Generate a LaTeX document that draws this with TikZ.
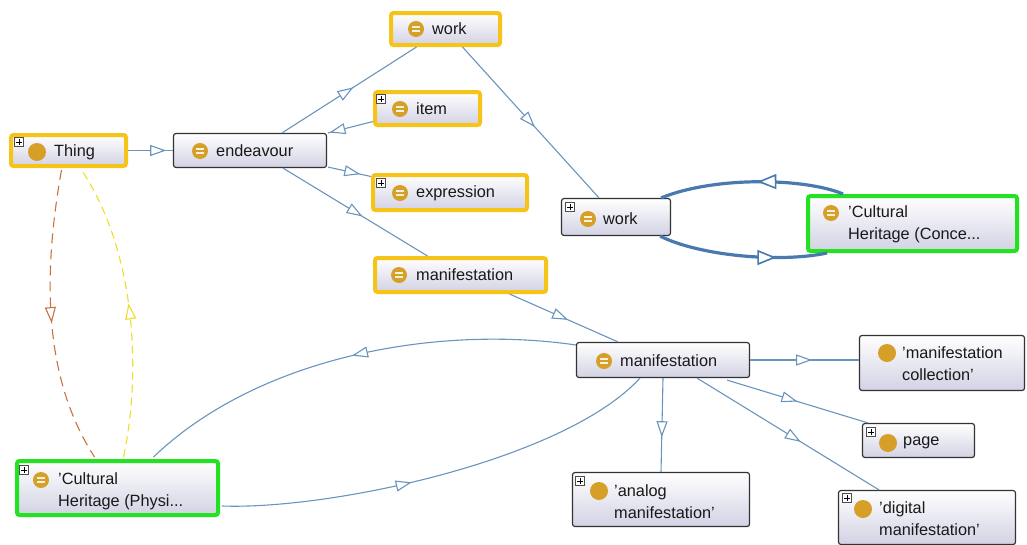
\documentclass[tikz,border=0pt]{standalone}
\usepackage{fontspec}
\setmainfont{Liberation Sans}
\usetikzlibrary{arrows.meta,decorations.markings,calc}
\definecolor{ybord}{RGB}{246,196,24}
\definecolor{gbord}{RGB}{34,226,34}
\definecolor{boxbot}{RGB}{210,210,228}
\definecolor{edgeb}{RGB}{105,148,190}
\definecolor{edgethick}{RGB}{72,122,176}
\definecolor{gold}{RGB}{214,160,40}
\definecolor{brownd}{RGB}{200,112,64}
\definecolor{yellowd}{RGB}{238,222,40}
\tikzset{
  basebox/.style={rectangle, rounded corners=2.5pt, top color=white, bottom color=boxbot, inner sep=0pt},
  ybox/.style={basebox, draw=ybord, line width=4pt},
  gbox/.style={basebox, draw=gbord, line width=4pt},
  kbox/.style={basebox, draw=black!80, line width=1.2pt},
  lbl/.style={anchor=west, inner sep=0pt, font=\fontsize{16.3}{22}\selectfont, text=black!90, align=left},
  plainicon/.style={circle, fill=gold, minimum size=18pt, inner sep=0pt},
  eqicon/.style={circle, fill=gold, minimum size=16pt, inner sep=0pt,
    path picture={\draw[white!85!gold, line width=1.6pt]
      ($(path picture bounding box.center)+(-3.8,-2)$) -- ++(7.6,0)
      ($(path picture bounding box.center)+(-3.8,2)$) -- ++(7.6,0);}},
  plusbox/.style={rectangle, draw=black!70, fill=white, line width=0.6pt, minimum size=8.5pt, inner sep=0pt,
    path picture={\draw[black, line width=0.8pt]
      ($(path picture bounding box.center)+(-2.7,0)$) -- ++(5.4,0)
      ($(path picture bounding box.center)+(0,-2.7)$) -- ++(0,5.4);}},
  tri/.tip={Triangle[open, length=16pt, width=11pt, fill=white]},
  bigtri/.tip={Triangle[open, length=19pt, width=15pt, fill=white, line width=1.6pt]},
  midarr/.style={postaction={decorate}, decoration={markings, mark=at position #1 with {\arrow{tri}}}},
  midarr/.default=0.5,
  bigarr/.style={postaction={decorate}, decoration={markings, mark=at position #1 with {\arrow{bigtri}}}},
  edge/.style={draw=edgeb, line width=1.1pt},
  thick edge/.style={draw=edgethick, line width=3.2pt},
}
\begin{document}
\begin{tikzpicture}[x=1pt,y=-1pt]
\useasboundingbox (0,0) rectangle (1027,544);
% boxes
\node[ybox, minimum width=115pt, minimum height=31pt] (thing) at (68.5,150.5) {};
\node[kbox, minimum width=153pt, minimum height=34pt] (endeav) at (250,150.5) {};
\node[ybox, minimum width=109pt, minimum height=32pt] (work1) at (445.5,29) {};
\node[ybox, minimum width=105pt, minimum height=33pt] (item) at (427.5,108.5) {};
\node[ybox, minimum width=154pt, minimum height=35pt] (expr) at (450,192.5) {};
\node[ybox, minimum width=171pt, minimum height=34pt] (manif1) at (460.5,275) {};
\node[kbox, minimum width=109pt, minimum height=37pt] (work2) at (616,217) {};
\node[gbox, minimum width=209pt, minimum height=55pt] (chc) at (912.5,223.5) {};
\node[kbox, minimum width=173pt, minimum height=35pt] (manif2) at (663,360) {};
\node[kbox, minimum width=165pt, minimum height=55pt] (mcoll) at (942,363) {};
\node[kbox, minimum width=112pt, minimum height=34pt] (page) at (918.5,440.5) {};
\node[kbox, minimum width=177pt, minimum height=54pt] (analog) at (661,499.5) {};
\node[kbox, minimum width=177pt, minimum height=54pt] (digital) at (927,517.5) {};
\node[gbox, minimum width=201pt, minimum height=54pt] (chp) at (117.5,488) {};
% icons and labels
\node[plusbox] (thingp) at (19,142) {};
\node[plainicon] (thingi) at (37,152) {};
\node[lbl] (thingt) at (54,152) {Thing};
\node[eqicon] (endeavi) at (200,151) {};
\node[lbl] (endeavt) at (216,151) {endeavour};
\node[eqicon] (work1i) at (416,29) {};
\node[lbl] (work1t) at (432,29) {work};
\node[plusbox] (itemp) at (381,99) {};
\node[eqicon] (itemi) at (400,109) {};
\node[lbl] (itemt) at (416,109) {item};
\node[plusbox] (exprp) at (381,183) {};
\node[eqicon] (expri) at (400,193) {};
\node[lbl] (exprt) at (416,193) {expression};
\node[eqicon] (manif1i) at (399,275) {};
\node[lbl] (manif1t) at (416,275) {manifestation};
\node[plusbox] (work2p) at (570,207) {};
\node[eqicon] (work2i) at (588,219) {};
\node[lbl] (work2t) at (603,219) {work};
\node[eqicon] (chci) at (831,213) {};
\node[lbl] (chct) at (848,224.5) {'Cultural\\Heritage (Conce...};
\node[eqicon] (manif2i) at (604,361) {};
\node[lbl] (manif2t) at (620,361) {manifestation};
\node[plainicon] (mcolli) at (887,353) {};
\node[lbl] (mcollt) at (902,364) {'manifestation\\collection'};
\node[plusbox] (pagep) at (871,432) {};
\node[plainicon] (pagei) at (888,443) {};
\node[lbl] (paget) at (903,443) {page};
\node[plusbox] (analogp) at (580,481) {};
\node[plainicon] (analogi) at (599,491) {};
\node[lbl] (analogt) at (614,502) {'analog\\manifestation'};
\node[plusbox] (digitalp) at (847,498) {};
\node[plainicon] (digitali) at (863,509) {};
\node[lbl] (digitalt) at (879,519) {'digital\\manifestation'};
\node[plusbox] (chpp) at (24,470) {};
\node[eqicon] (chpi) at (41,480) {};
\node[lbl] (chpt) at (58,491) {'Cultural\\Heritage (Physi...};
% edges
\path[edge, midarr=0.85] (thing.east) -- (endeav.west);
\path[edge, midarr=0.53] ($(endeav.north)+(32,0)$) -- ($(work1.south)+(-29,0)$);
\path[edge, midarr=0.97] ($(item.west)+(0,13)$) -- ($(endeav.north east)+(1,0)$);
\path[edge, midarr=0.75] ($(endeav.south east)+(1,-1)$) -- ($(expr.west)+(0,-16)$);
\path[edge, midarr=0.55] ($(endeav.south)+(33,0)$) -- ($(manif1.north)+(-33,0)$);
\path[edge, midarr=0.53] ($(work1.south)+(17,0)$) -- ($(work2.north)+(-17,0)$);
\path[edge, midarr=0.54] ($(manif1.south)+(49,0)$) -- ($(manif2.north)+(-45,0)$);
\path[thick edge, bigarr=0.47] ($(chc.north west)+(37,0)$) .. controls (805,178) and (715,176) .. ($(work2.north east)+(-10,0)$);
\path[thick edge, bigarr=0.7] ($(work2.south east)+(-11,0)$) .. controls (700,256) and (780,263) .. ($(chc.south west)+(21,0)$);
\path[draw=brownd, line width=1.1pt, dash pattern=on 10pt off 6pt, midarr=0.52] ($(thing.south)+(-7,2)$) .. controls (40,290) and (48,385) .. ($(chp.north)+(-23,-2)$);
\path[draw=yellowd, line width=1.1pt, dash pattern=on 8pt off 5pt, midarr=0.52] ($(chp.north)+(6,-2)$) .. controls (142,370) and (135,250) .. ($(thing.south)+(13,2)$);
\path[edge, midarr=0.5] ($(manif2.west)+(0,-15)$) .. controls (440,325) and (260,355) .. ($(chp.north)+(36,-2)$);
\path[edge, midarr=0.43] ($(chp.east)+(2,18)$) .. controls (330,510) and (565,460) .. ($(manif2.south)+(-23,0)$);
\path[edge, midarr=0.57] (manif2.east) -- (manif2.east -| mcoll.west);
\path[edge, midarr=0.5] ($(manif2.south east)+(-23,2)$) -- ($(page.north west)+(6,0)$);
\path[edge, midarr=0.63] (manif2.south) -- (analog.north);
\path[edge, midarr=0.57] ($(manif2.south)+(34,0)$) -- ($(digital.north)+(-48,0)$);
\end{tikzpicture}
\end{document}
